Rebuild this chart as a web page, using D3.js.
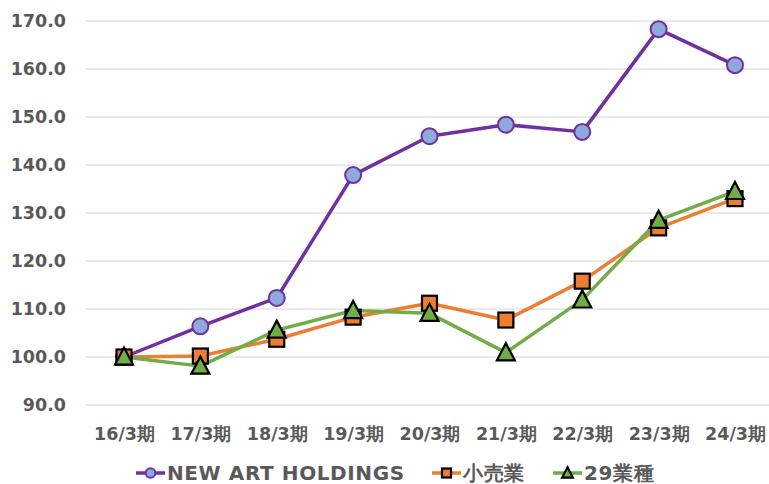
<!DOCTYPE html>
<html>
<head>
<meta charset="utf-8">
<script src="https://cdn.jsdelivr.net/npm/d3@7"></script>
<style>
body { margin: 0; background: #fff; }
text { font-family: "DejaVu Sans", Verdana, sans-serif; font-weight: bold; fill: #595959; }
</style>
</head>
<body>
<div id="chart"></div>
<script>
var width = 769, height = 484;

// 期
var periods = ["16/3期", "17/3期", "18/3期", "19/3期", "20/3期", "21/3期", "22/3期", "23/3期", "24/3期"];
var newArt = [100.0, 106.4, 112.3, 137.9, 146.0, 148.4, 146.9, 168.3, 160.8];
var retail = [100.0, 100.2, 103.7, 108.3, 111.2, 107.7, 115.8, 126.9, 133.0];
var ind29  = [100.0, 98.1, 105.6, 109.7, 109.1, 100.9, 111.9, 128.5, 134.5];
var yTicks = [90, 100, 110, 120, 130, 140, 150, 160, 170];
var seriesNames = ["NEW ART HOLDINGS", "小売業", "29業種"];

var svg = d3.select("#chart").append("svg")
    .attr("width", width).attr("height", height);

var x = d3.scalePoint().domain(periods).range([124, 735]);
var y = d3.scaleLinear().domain([90, 170]).range([405, 21]);

// 横グリッド
svg.append("g").selectAll("line").data(yTicks).enter().append("line")
    .attr("x1", 86).attr("x2", width)
    .attr("y1", function(d){ return y(d); })
    .attr("y2", function(d){ return y(d); })
    .attr("stroke", "#e3e3e3").attr("stroke-width", 1.5);

// y軸ラベル
var yAxis = d3.axisLeft(y).tickValues(yTicks).tickFormat(d3.format(".1f")).tickSize(0).tickPadding(0);
svg.append("g").attr("transform", "translate(66,0)").call(yAxis)
    .call(function(g){ g.select(".domain").remove(); })
    .selectAll("text").style("font-size", "17.5px").attr("font-family", null).attr("fill", "#595959");

// x軸ラベル
var xAxis = d3.axisBottom(x).tickSize(0).tickPadding(0);
svg.append("g").attr("transform", "translate(0,428)").call(xAxis)
    .call(function(g){ g.select(".domain").remove(); })
    .selectAll("text").style("font-size", "17.5px").attr("font-family", null).attr("fill", "#595959");

var series = [
    {name: seriesNames[0], values: newArt, color: "#7030A0", fill: "#8EA9DB", stroke: "#7030A0", shape: "circle"},
    {name: seriesNames[1], values: retail, color: "#ED7D31", fill: "#ED7D31", stroke: "#000", shape: "square"},
    {name: seriesNames[2], values: ind29, color: "#70AD47", fill: "#70AD47", stroke: "#000", shape: "triangle"}
];

var line = d3.line()
    .x(function(d, i){ return x(periods[i]); })
    .y(function(d){ return y(d); });

function marker(g, s, cx, cy, k) {
    if (s.shape == "circle") {
        g.append("circle").attr("cx", cx).attr("cy", cy).attr("r", 8 * k)
            .attr("fill", s.fill).attr("stroke", s.stroke).attr("stroke-width", 2);
    } else if (s.shape == "square") {
        var h = 7.5 * k;
        g.append("rect").attr("x", cx - h).attr("y", cy - h).attr("width", 2 * h).attr("height", 2 * h)
            .attr("fill", s.fill).attr("stroke", s.stroke).attr("stroke-width", 2.2);
    } else {
        var w = 9 * k, t = 9.5 * k;
        g.append("path")
            .attr("d", "M" + cx + "," + (cy - t) + "L" + (cx + w) + "," + (cy + t * 0.8) + "L" + (cx - w) + "," + (cy + t * 0.8) + "Z")
            .attr("fill", s.fill).attr("stroke", s.stroke).attr("stroke-width", 2.2).attr("stroke-linejoin", "miter");
    }
}

// 線
series.forEach(function(s){
    svg.append("path").datum(s.values)
        .attr("d", line)
        .attr("fill", "none")
        .attr("stroke", s.color)
        .attr("stroke-width", 3.5)
        .attr("stroke-linejoin", "round");
});

// マーカー
series.forEach(function(s){
    var g = svg.append("g");
    s.values.forEach(function(v, i){
        marker(g, s, x(periods[i]), y(v), 1);
    });
});

// 凡例
var legendX = [136, 432, 553];
var ly = 473;
series.forEach(function(s, i){
    var g = svg.append("g");
    var lx = legendX[i];
    g.append("line").attr("x1", lx).attr("x2", lx + 29).attr("y1", ly).attr("y2", ly)
        .attr("stroke", s.color).attr("stroke-width", 3.5);
    marker(g, s, lx + 14.5, ly, 0.6);
    g.append("text").attr("x", lx + 31).attr("y", ly).attr("dy", "0.36em")
        .style("font-size", "20px").style("letter-spacing", "0.6px").text(s.name);
});
</script>
</body>
</html>
